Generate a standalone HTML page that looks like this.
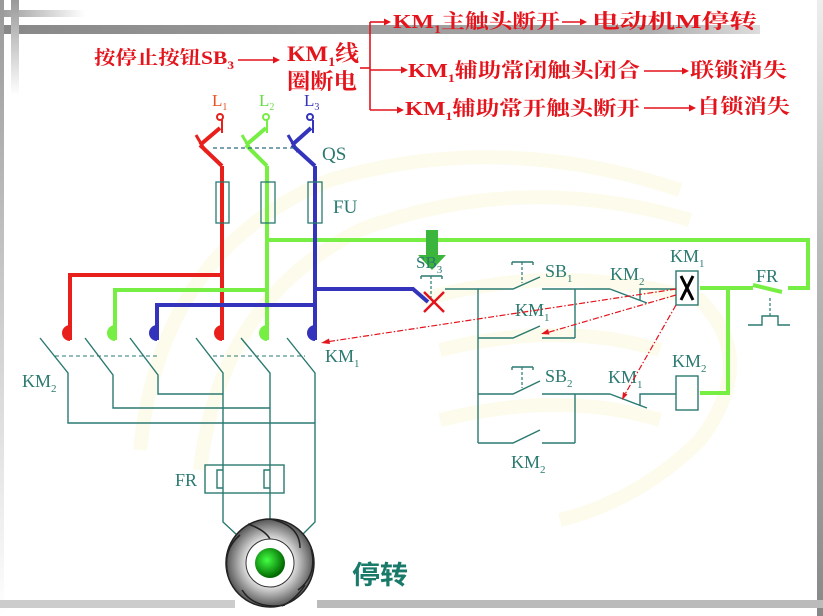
<!DOCTYPE html>
<html><head><meta charset="utf-8"><style>
html,body{margin:0;padding:0;background:#fff;}
svg{display:block;}
text{font-family:"Liberation Serif","Noto Serif CJK SC",serif;}
.cj{font-family:"Liberation Serif","Noto Serif CJK SC","Noto Sans CJK SC",serif;font-weight:bold;}
</style></head><body>
<svg width="823" height="616" viewBox="0 0 823 616" xmlns="http://www.w3.org/2000/svg">
<defs>
<linearGradient id="hb" x1="0" x2="1"><stop offset="0" stop-color="#888"/><stop offset="0.85" stop-color="#aaa"/><stop offset="1" stop-color="#ddd"/></linearGradient>
<linearGradient id="hb2" x1="0" x2="1"><stop offset="0" stop-color="#999"/><stop offset="1" stop-color="#fff"/></linearGradient>
<linearGradient id="vb" x1="0" y1="0" x2="0" y2="1"><stop offset="0" stop-color="#999"/><stop offset="1" stop-color="#fff"/></linearGradient>
<linearGradient id="rv" x1="0" y1="0" x2="0" y2="1"><stop offset="0" stop-color="#eee"/><stop offset="0.4" stop-color="#bbb"/><stop offset="1" stop-color="#888"/></linearGradient>
<radialGradient id="gm" cx="0.4" cy="0.4" r="0.6"><stop offset="0" stop-color="#4f4"/><stop offset="1" stop-color="#060"/></radialGradient>
<radialGradient id="mm" cx="0.5" cy="0.5" r="0.5"><stop offset="0.5" stop-color="#eee"/><stop offset="1" stop-color="#555"/></radialGradient>
</defs>
<g fill="none" stroke="#fdfbec" stroke-width="14">
<path d="M140 450 Q160 250 330 180 Q500 130 680 190"/>
<path d="M200 470 Q220 300 360 230 Q520 170 690 220"/>
<path d="M420 300 Q560 260 700 300 Q760 360 700 440 Q640 500 560 520"/>
<path d="M440 350 Q560 320 660 350"/>
<path d="M440 420 Q560 390 660 420"/>
</g>
<rect x="0" y="25" width="760" height="9" fill="url(#hb)"/>
<rect x="0" y="10" width="85" height="7" fill="url(#hb2)"/>
<rect x="0" y="0" width="4" height="616" fill="url(#vb)"/>
<rect x="11" y="0" width="8" height="95" fill="url(#vb)"/>
<rect x="817" y="0" width="6" height="616" fill="url(#rv)"/>
<rect x="0" y="600" width="235" height="8" fill="#ccc"/>
<rect x="317" y="600" width="506" height="8" fill="#bbb"/>

<g fill="#e3141c" class="cj">
<text x="94" y="64" font-size="19" class="cj" textLength="140" lengthAdjust="spacingAndGlyphs">按停止按钮SB<tspan font-size="12" dy="5">3</tspan></text>
<text x="287" y="61" font-size="22" class="cj" textLength="72" lengthAdjust="spacingAndGlyphs">KM<tspan font-size="13" dy="5">1</tspan><tspan dy="-5">线</tspan></text>
<text x="287" y="89" font-size="22" class="cj" textLength="70" lengthAdjust="spacingAndGlyphs">圈断电</text>
<text x="393" y="28" font-size="20" class="cj" textLength="167" lengthAdjust="spacingAndGlyphs">KM<tspan font-size="12" dy="5">1</tspan><tspan dy="-5">主触头断开</tspan></text>
<text x="592" y="28" font-size="20" class="cj" textLength="165" lengthAdjust="spacingAndGlyphs">电动机M停转</text>
<text x="408" y="77" font-size="20" class="cj" textLength="232" lengthAdjust="spacingAndGlyphs">KM<tspan font-size="12" dy="5">1</tspan><tspan dy="-5">辅助常闭触头闭合</tspan></text>
<text x="690" y="77" font-size="20" class="cj" textLength="97" lengthAdjust="spacingAndGlyphs">联锁消失</text>
<text x="405" y="115" font-size="20" class="cj" textLength="235" lengthAdjust="spacingAndGlyphs">KM<tspan font-size="12" dy="5">1</tspan><tspan dy="-5">辅助常开触头断开</tspan></text>
<text x="697" y="113" font-size="20" class="cj" textLength="93" lengthAdjust="spacingAndGlyphs">自锁消失</text>
</g>
<g stroke="#e3141c" stroke-width="1.6" fill="none">
<line x1="238" y1="60" x2="274" y2="60"/>
<line x1="360" y1="68" x2="370" y2="68"/>
<line x1="370" y1="22" x2="370" y2="110"/>
<line x1="370" y1="22" x2="386" y2="22"/>
<line x1="370" y1="70" x2="404" y2="70"/>
<line x1="370" y1="110" x2="399" y2="110"/>
<line x1="562" y1="22" x2="582" y2="22"/>
<line x1="644" y1="71" x2="684" y2="71"/>
<line x1="644" y1="108" x2="691" y2="108"/>
</g>
<g fill="#e3141c">
<path d="M280 60 l-7 -3.5 v7z"/><path d="M391 22 l-7 -3.5 v7z"/><path d="M408 70 l-7 -3.5 v7z"/>
<path d="M404 110 l-7 -3.5 v7z"/><path d="M587 22 l-7 -3.5 v7z"/><path d="M689 71 l-7 -3.5 v7z"/><path d="M696 108 l-7 -3.5 v7z"/>
</g>

<text x="212" y="106" font-size="17" fill="#e8501c">L<tspan font-size="10" dy="4">1</tspan></text>
<text x="259" y="106" font-size="17" fill="#66dd44">L<tspan font-size="10" dy="4">2</tspan></text>
<text x="304" y="106" font-size="17" fill="#3333bb">L<tspan font-size="10" dy="4">3</tspan></text>

<g fill="none" stroke-width="4">
<g stroke="#e8201c">
<circle cx="220" cy="117" r="3" stroke-width="2"/>
<line x1="222" y1="120" x2="222" y2="133" stroke-width="2"/>
<line x1="200" y1="145" x2="220" y2="128"/>
<line x1="196" y1="135" x2="206" y2="152" stroke-width="3"/>
<line x1="200" y1="145" x2="222" y2="166"/>
<line x1="222" y1="166" x2="222" y2="340"/>
<line x1="222" y1="275" x2="70" y2="275"/>
<line x1="70" y1="273" x2="70" y2="340"/>
</g>
<g stroke="#77ee44">
<circle cx="266" cy="117" r="3" stroke-width="2"/>
<line x1="267" y1="120" x2="267" y2="133" stroke-width="2"/>
<line x1="246" y1="145" x2="266" y2="128"/>
<line x1="242" y1="135" x2="252" y2="152" stroke-width="3"/>
<line x1="246" y1="145" x2="267" y2="166"/>
<line x1="267" y1="166" x2="267" y2="340"/>
<line x1="267" y1="290" x2="115" y2="290"/>
<line x1="115" y1="288" x2="115" y2="340"/>
<path d="M267 240 H808 V288 H788 M782 292 L753 285 M753 288 H700 M728 288 V393 H700"/>
</g>
<g stroke="#3333bb">
<circle cx="310" cy="117" r="3" stroke-width="2"/>
<line x1="313" y1="120" x2="313" y2="133" stroke-width="2"/>
<line x1="292" y1="145" x2="311" y2="128"/>
<line x1="288" y1="135" x2="298" y2="152" stroke-width="3"/>
<line x1="292" y1="145" x2="315" y2="166"/>
<line x1="315" y1="166" x2="315" y2="340"/>
<line x1="315" y1="305" x2="157" y2="305"/>
<line x1="157" y1="303" x2="157" y2="340"/>
<path d="M315 289 H413 L428 302"/>
</g>
</g>
<line x1="213" y1="148" x2="298" y2="148" stroke="#2a6a80" stroke-width="1.2" stroke-dasharray="4,3"/>
<text x="322" y="160" font-size="19" fill="#2a7a70">QS</text>
<g fill="none" stroke="#2a7a70" stroke-width="1.3">
<rect x="216" y="182" width="13" height="41"/>
<rect x="261" y="182" width="14" height="41"/>
<rect x="308" y="182" width="14" height="41"/>
</g>
<text x="333" y="213" font-size="19" fill="#2a7a70">FU</text>

<path d="M70 325 A8 8 0 0 0 70 341 Z" fill="#e8201c"/>
<path d="M222 325 A8 8 0 0 0 222 341 Z" fill="#e8201c"/>
<path d="M115 325 A8 8 0 0 0 115 341 Z" fill="#77ee44"/>
<path d="M267 325 A8 8 0 0 0 267 341 Z" fill="#77ee44"/>
<path d="M157 325 A8 8 0 0 0 157 341 Z" fill="#3333bb"/>
<path d="M315 325 A8 8 0 0 0 315 341 Z" fill="#3333bb"/>

<g fill="none" stroke="#2a7a70" stroke-width="1.4">
<path d="M40 338 L68 373 V423 H315"/>
<path d="M85 338 L113 375 V408 H270"/>
<path d="M130 338 L158 375 V394 H223"/>
<path d="M196 338 L223 373 V522 L237 535"/>
<path d="M241 338 L270 373 V522"/>
<path d="M287 338 L315 373 V522 L302 535"/>
<rect x="205" y="465" width="79" height="28"/>
<path d="M223 470 h-6 v18 h6"/>
<path d="M270 470 h-6 v18 h6"/>
</g>
<g stroke="#2a7a70" stroke-width="1" stroke-dasharray="4,3">
<line x1="55" y1="356" x2="160" y2="356"/>
<line x1="213" y1="356" x2="305" y2="356"/>
</g>
<rect x="219" y="472" width="2" height="14" fill="#fff"/>
<rect x="266" y="472" width="2" height="14" fill="#fff"/>
<text x="22" y="387" font-size="18" fill="#2a7a70">KM<tspan font-size="11" dy="5">2</tspan></text>
<text x="325" y="362" font-size="18" fill="#2a7a70">KM<tspan font-size="11" dy="5">1</tspan></text>
<text x="175" y="486" font-size="18" fill="#2a7a70">FR</text>

<circle cx="270" cy="563" r="44" fill="url(#mm)" stroke="#222" stroke-width="1.5"/>
<g fill="none" stroke="#222" stroke-width="1.5">
<path d="M270 519 Q300 525 300 548"/><path d="M311 548 Q318 575 298 590"/><path d="M285 605 Q255 610 242 590"/>
<path d="M228 575 Q222 550 240 535"/><path d="M248 524 Q265 530 270 539"/><path d="M305 585 Q295 600 282 606"/>
</g>
<circle cx="270" cy="563" r="24" fill="#fff" stroke="#333" stroke-width="1"/>
<circle cx="270" cy="563" r="15" fill="url(#gm)"/>
<text x="352" y="584" font-size="26" fill="#1a7a6a" font-weight="bold" textLength="56" lengthAdjust="spacingAndGlyphs" style="font-family:'Noto Sans CJK SC',sans-serif">停转</text>

<g fill="none" stroke="#2a7a70" stroke-width="1.4">
<path d="M445 289 H478 V443"/>
<path d="M478 289 H513 L540 277 M542 289 H610 M575 289 V338 M478 338 H513 L540 326 M542 338 H575"/>
<path d="M610 289 L647 303 M640 300 V289 H676"/>
<path d="M478 394 H513 L540 381 M542 394 H610 M575 394 V443 M478 443 H513 L540 430 M542 443 H575"/>
<path d="M610 394 L647 408 M640 406 V394 H676"/>
<path d="M512 262 H533 M512 262 v3 M533 262 v3"/>
<path d="M512 367 H533 M512 367 v3 M533 367 v3"/>
<path d="M421 276 H442 M421 276 v3 M442 276 v3"/>
<rect x="676" y="271" width="22" height="34" fill="#fff"/>
<rect x="676" y="376" width="22" height="34" fill="#fff"/>
<path d="M748 325 H762 V316 H778 V325 H790"/>
</g>
<g stroke="#2a7a70" stroke-width="1.2" stroke-dasharray="3,2">
<line x1="522" y1="262" x2="522" y2="283"/>
<line x1="522" y1="367" x2="522" y2="388"/>
<line x1="431" y1="276" x2="431" y2="300"/>
<line x1="770" y1="298" x2="770" y2="316"/>
</g>
<g stroke="#000" stroke-width="3"><line x1="681" y1="276" x2="693" y2="300"/><line x1="693" y1="276" x2="681" y2="300"/></g>
<g stroke="#e3141c" stroke-width="2.5"><line x1="424" y1="292" x2="444" y2="312"/><line x1="444" y1="292" x2="424" y2="312"/></g>
<path d="M426 230 H438 V255 H446 L432 270 L418 255 H426 Z" fill="#3bb53b"/>
<g font-size="18" fill="#2a7a70">
<text x="416" y="268" font-size="17">SB<tspan font-size="11" dy="5">3</tspan></text>
<text x="545" y="277">SB<tspan font-size="11" dy="5">1</tspan></text>
<text x="610" y="280">KM<tspan font-size="11" dy="5">2</tspan></text>
<text x="670" y="262">KM<tspan font-size="11" dy="5">1</tspan></text>
<text x="756" y="282">FR</text>
<text x="515" y="316">KM<tspan font-size="11" dy="5">1</tspan></text>
<text x="545" y="382">SB<tspan font-size="11" dy="5">2</tspan></text>
<text x="608" y="383">KM<tspan font-size="11" dy="5">1</tspan></text>
<text x="672" y="367">KM<tspan font-size="11" dy="5">2</tspan></text>
<text x="511" y="468">KM<tspan font-size="11" dy="5">2</tspan></text>
</g>
<g stroke="#e3141c" stroke-width="1.2" stroke-dasharray="6,2,1.5,2" fill="none">
<line x1="676" y1="289" x2="326" y2="342"/>
<line x1="676" y1="295" x2="546" y2="333"/>
<line x1="676" y1="305" x2="624" y2="396"/>
</g>
<g fill="#e3141c">
<path d="M321 343 l8 -4.5 l1 5.5z"/>
<path d="M541 334 l7 -5 l1.5 5.5z"/>
<path d="M622 400 l1 -8 l4.5 2.5z"/>
</g>
</svg>
</body></html>
